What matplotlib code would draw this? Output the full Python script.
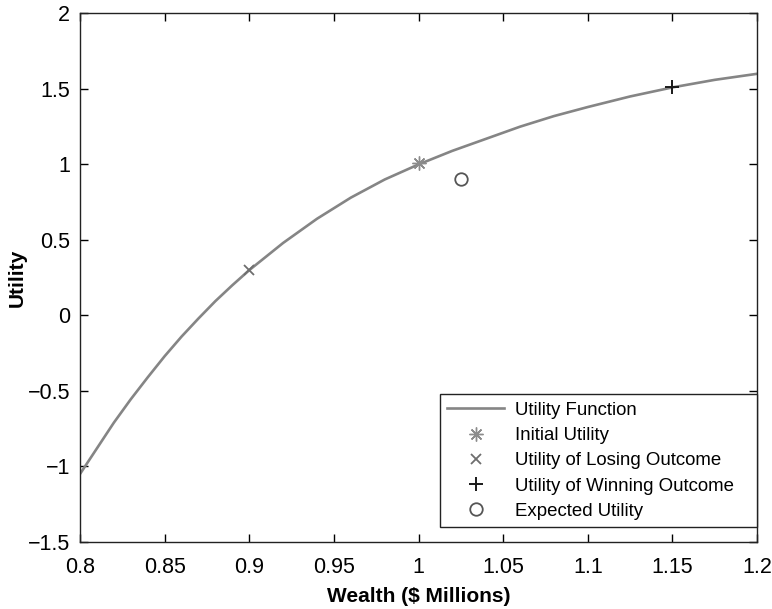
import matplotlib
matplotlib.use('Agg')
import matplotlib.pyplot as plt

plt.rcParams['font.family'] = ['Liberation Sans', 'DejaVu Sans']

# Utility curve
wealth = [0.80, 0.81, 0.82, 0.83, 0.84, 0.85, 0.86, 0.87, 0.88, 0.89, 0.90,
          0.92, 0.94, 0.96, 0.98, 1.00, 1.02, 1.04, 1.06, 1.08, 1.10,
          1.125, 1.15, 1.175, 1.20]
utility = [-1.05, -0.88, -0.71, -0.555, -0.41, -0.27, -0.14, -0.02, 0.095, 0.20, 0.30,
           0.48, 0.64, 0.78, 0.90, 1.00, 1.09, 1.17, 1.25, 1.32, 1.38,
           1.45, 1.51, 1.56, 1.60]

# Marked points
initial = (1.0, 1.01)
losing = (0.9, 0.30)
winning = (1.15, 1.51)
expected = (1.025, 0.905)

xticks = [0.8, 0.85, 0.9, 0.95, 1.0, 1.05, 1.1, 1.15, 1.2]
xticklabels = ['0.8', '0.85', '0.9', '0.95', '1', '1.05', '1.1', '1.15', '1.2']
yticks = [-1.5, -1, -0.5, 0, 0.5, 1, 1.5, 2]
yticklabels = ['\u22121.5', '\u22121', '\u22120.5', '0', '0.5', '1', '1.5', '2']

fig = plt.figure(figsize=(7.72, 6.09), dpi=100)
ax = fig.add_axes([0.1036, 0.110, 0.877, 0.868])

ax.plot(wealth, utility, color='#858585', lw=1.9, label='Utility Function')
ax.plot(*initial, marker=(8, 2, 0), ls='none', color='#8c8c8c', ms=10, mew=1.0,
        label='Initial Utility')
ax.plot(*losing, marker='x', ls='none', color='#6e6e6e', ms=7, mew=1.3,
        label='Utility of Losing Outcome')
ax.plot(*winning, marker='+', ls='none', color='#1a1a1a', ms=10, mew=1.4,
        label='Utility of Winning Outcome   ')
ax.plot(*expected, marker='o', ls='none', color='#555555', ms=9, mew=1.3,
        mfc='none', label='Expected Utility')

ax.set_xlim(0.8, 1.2)
ax.set_ylim(-1.5, 2)
ax.set_xticks(xticks)
ax.set_xticklabels(xticklabels)
ax.set_yticks(yticks)
ax.set_yticklabels(yticklabels)
ax.tick_params(direction='in', top=True, right=True, length=6, width=1,
               labelsize=15.5)
ax.tick_params(axis='x', pad=11)
ax.tick_params(axis='y', pad=7)
for s in ax.spines.values():
    s.set_linewidth(1.0)
    s.set_color('#222222')

ax.set_xlabel('Wealth ($ Millions)', fontsize=15, fontweight='bold', va='center')
ax.set_ylabel('Utility', fontsize=15, fontweight='bold', va='center')
ax.xaxis.set_label_coords(0.5, -0.104)
ax.yaxis.set_label_coords(-0.093, 0.5)

leg = ax.legend(loc='lower right', bbox_to_anchor=(1.0, 0.028), borderaxespad=0,
                fontsize=13.4, fancybox=False, framealpha=1, edgecolor='#222222',
                handlelength=3.05, labelspacing=0.44, borderpad=0.4,
                handletextpad=0.6)
leg.get_frame().set_linewidth(1.0)

fig.savefig('out.png', dpi=100)
